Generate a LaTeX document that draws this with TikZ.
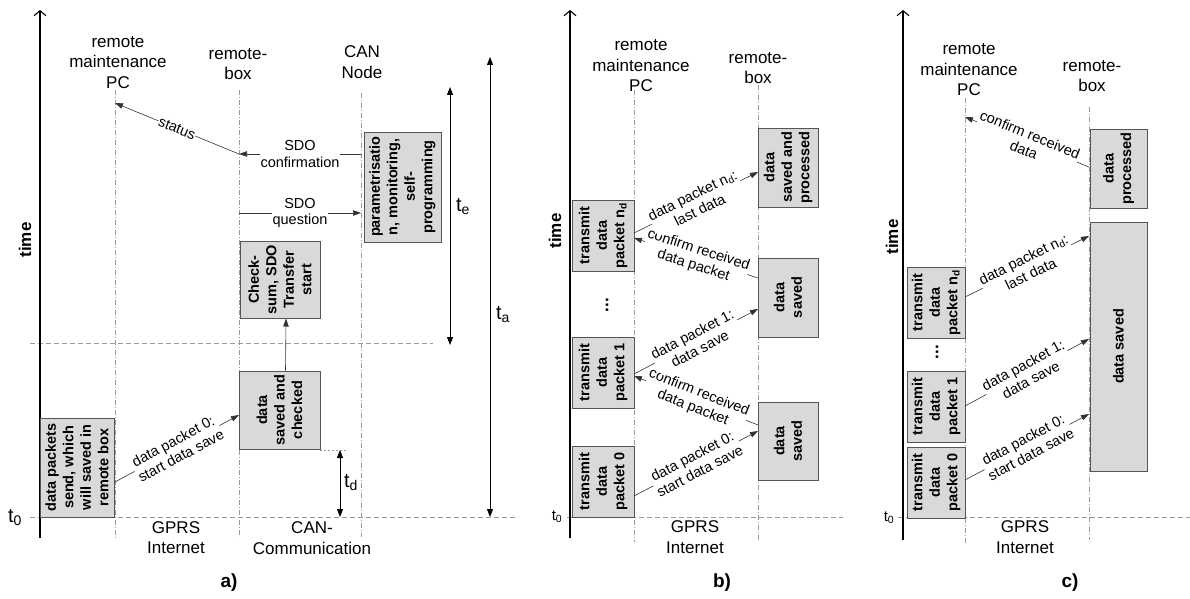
\documentclass[tikz,border=0pt]{standalone}
\usepackage{fontspec}
\setmainfont{Liberation Sans}
\usepackage{tikz}
\usetikzlibrary{arrows.meta,positioning}
\definecolor{boxfill}{HTML}{D9D9D9}
\definecolor{boxline}{HTML}{555555}
\definecolor{grid}{HTML}{9A9A9A}
\definecolor{msgline}{HTML}{333333}
\tikzset{
  lifeline/.style={draw=grid, line width=0.7pt, dash pattern=on 5pt off 2pt on 1pt off 2pt},
  gridline/.style={draw=grid, line width=0.8pt, dash pattern=on 5pt off 3pt},
  axisline/.style={draw=black, line width=1.1pt, -{Straight Barb[length=5pt,width=12pt]}},
  spanline/.style={draw=black, line width=0.9pt, {Triangle[length=8pt,width=6pt]}-{Triangle[length=8pt,width=6pt]}},
  msg/.style={draw=msgline, line width=0.6pt, -{Triangle[length=8pt,width=5.5pt]}},
  msglab/.style={font=\fontsize{14.5}{16.5}\selectfont, fill=white, inner sep=0.5pt, align=center, sloped, midway},
  box/.style={draw=boxline, fill=boxfill, line width=1pt, rotate=90, align=center, inner sep=1pt, font=\fontsize{14.5}{17.5}\selectfont\bfseries},
  lab/.style={font=\fontsize{17}{20.5}\selectfont, align=center},
  tlab/.style={font=\fontsize{20}{24}\selectfont},
  tsmall/.style={font=\fontsize{15}{18}\selectfont, fill=white, inner sep=1pt},
  axlab/.style={font=\fontsize{17}{20}\selectfont\bfseries, rotate=90},
  dotlab/.style={font=\fontsize{17}{20}\selectfont\bfseries, rotate=90},
  panel/.style={font=\fontsize{19}{22}\selectfont\bfseries},
}

\begin{document}
\begin{tikzpicture}[x=1pt,y=-1pt]
  \useasboundingbox (0,0) rectangle (1190,599);

  % a) remote maintenance with CAN node
  \coordinate (pcA) at (115,90);
  \coordinate (rbA) at (239,90);
  \coordinate (canA) at (361,93);
  \draw[gridline] (30,517) -- (518,517);
  \draw[gridline] (30,343) -- (433,343);
  \draw[lifeline] (pcA) -- (115,538);
  \draw[lifeline] (rbA) -- (239,537);
  \draw[lifeline] (canA) -- (361,537);
  \draw[axisline] (40,538) -- (40,10);
  \node[axlab] (timeA) at (25,240) {time};
  \node[tlab] (t0A) at (15,518) {t\textsubscript{0}};
  \node[lab] (pcLabA) at (118,62.5) {remote\\maintenance\\PC};
  \node[lab] (rbLabA) at (238,64) {remote-\\box};
  \node[lab] (canLabA) at (362,62) {CAN\\Node};
  \node[lab] (gprsA) at (176,537.5) {GPRS\\Internet};
  \node[lab] (canComA) at (312,538) {CAN-\\Communication};
  \node[panel] (panA) at (229,583) {a)};

  \node[box, minimum width=99pt, minimum height=74pt] (sendA) at (77,467.5) {data packets\\send, which\\will saved in\\remote box};
  \node[box, minimum width=78pt, minimum height=81pt] (savedA) at (279.5,410) {data\\saved and\\checked};
  \node[box, minimum width=77pt, minimum height=80pt] (checkA) at (280,279.5) {Check-\\sum, SDO\\Transfer\\start};
  \node[box, minimum width=110pt, minimum height=77pt] (paramA) at (402.5,187) {parametrisatio\\n, monitoring,\\self-\\programming};

  \draw[msg] (pcA |- 0,482) -- node[msglab] {data packet 0:\\start data save} (rbA |- 0,415);
  \draw[msg] ([xshift=6pt]savedA.east) -- ([xshift=6pt]checkA.west);
  \draw[msg] (rbA |- 0,213) -- node[msglab] {SDO\\question} (canA |- 0,213);
  \draw[msg] (canA |- 0,154) -- node[msglab] {SDO\\confirmation} (rbA |- 0,154);
  \draw[msg] (rbA |- 0,154) -- node[msglab] {status} (pcA |- 0,103);

  \coordinate (tdTop) at (340,450);
  \coordinate (tdBot) at (340,517);
  \draw[gridline, dash pattern=on 2pt off 2pt] (320,450) -- (348,450);
  \draw[spanline] (tdTop) -- (tdBot);
  \node[tlab] (tdA) at (351,483) {t\textsubscript{d}};
  \coordinate (teTop) at (450,87);
  \coordinate (teBot) at (450,345);
  \draw[spanline] (teTop) -- (teBot);
  \node[tlab] (teA) at (463,207) {t\textsubscript{e}};
  \coordinate (taTop) at (490,57);
  \coordinate (taBot) at (490,517);
  \draw[spanline] (taTop) -- (taBot);
  \node[tlab] (taA) at (503,315) {t\textsubscript{a}};

  % b) packet-wise transfer with confirmation
  \coordinate (pcB) at (634,90);
  \coordinate (rbB) at (758,85);
  \draw[gridline] (567,517) -- (843,517);
  \draw[lifeline] (pcB) -- (634,542);
  \draw[lifeline] (rbB) -- (758,540);
  \draw[axisline] (570,538) -- (570,10);
  \node[axlab] (timeB) at (555,231) {time};
  \node[tsmall] (t0B) at (557,517) {t\textsubscript{0}};
  \node[lab] (pcLabB) at (641,66) {remote\\maintenance\\PC};
  \node[lab] (rbLabB) at (758,68) {remote-\\box};
  \node[lab] (gprsB) at (695,537) {GPRS\\Internet};
  \node[panel] (panB) at (722,583) {b)};

  \node[box, minimum width=71pt, minimum height=62pt] (sendNB) at (603,235.5) {transmit\\data\\packet n\textsubscript{d}};
  \node[box, minimum width=71pt, minimum height=62pt] (send1B) at (603,372.5) {transmit\\data\\packet 1};
  \node[box, minimum width=71pt, minimum height=62pt] (send0B) at (603,481.5) {transmit\\data\\packet 0};
  \node[box, minimum width=79pt, minimum height=60pt] (procB) at (788,167.5) {data\\saved and\\processed};
  \node[box, minimum width=79pt, minimum height=60pt] (saved1B) at (788,297.5) {data\\saved};
  \node[box, minimum width=78pt, minimum height=60pt] (saved0B) at (788,441) {data\\saved};
  \node[dotlab] (dotsB) at (607,305) {...};

  \draw[msg] (pcB |- 0,496) -- node[msglab] {data packet 0:\\start data save} (rbB |- 0,431);
  \draw[msg] (rbB |- 0,425) -- node[msglab] {confirm received\\data packet} (pcB |- 0,376);
  \draw[msg] (pcB |- 0,374) -- node[msglab] {data packet 1:\\data save} (rbB |- 0,309);
  \draw[msg] (rbB |- 0,278) -- node[msglab] {confirm received\\data packet} (pcB |- 0,238);
  \draw[msg] (pcB |- 0,233) -- node[msglab] {data packet n\textsubscript{d}:\\last data} (rbB |- 0,172);

  % c) transfer without confirmation
  \coordinate (pcC) at (965,98);
  \coordinate (rbC) at (1089,107);
  \draw[gridline] (898,517) -- (1190,517);
  \draw[lifeline] (pcC) -- (965,543);
  \draw[lifeline] (rbC) -- (1089,540);
  \draw[axisline] (903,540) -- (903,10);
  \node[axlab] (timeC) at (892,237) {time};
  \node[tsmall] (t0C) at (889,518) {t\textsubscript{0}};
  \node[lab] (pcLabC) at (969,70) {remote\\maintenance\\PC};
  \node[lab] (rbLabC) at (1092,76) {remote-\\box};
  \node[lab] (gprsC) at (1025,537) {GPRS\\Internet};
  \node[panel] (panC) at (1070,583) {c)};

  \node[box, minimum width=71pt, minimum height=58pt] (sendNC) at (936,302.5) {transmit\\data\\packet n\textsubscript{d}};
  \node[box, minimum width=71pt, minimum height=58pt] (send1C) at (936,406.5) {transmit\\data\\packet 1};
  \node[box, minimum width=71pt, minimum height=58pt] (send0C) at (936,482.5) {transmit\\data\\packet 0};
  \node[box, minimum width=79pt, minimum height=57pt] (procC) at (1118.5,168.5) {data\\processed};
  \node[box, minimum width=249pt, minimum height=57pt] (savedC) at (1118.5,346.5) {data saved};
  \node[dotlab] (dotsC) at (937,352) {...};

  \draw[msg] (rbC |- 0,167) -- node[msglab] {confirm received\\data} (pcC |- 0,117);
  \draw[msg] (pcC |- 0,297) -- node[msglab] {data packet n\textsubscript{d}:\\last data} (rbC |- 0,236);
  \draw[msg] (pcC |- 0,406) -- node[msglab] {data packet 1:\\data save} (rbC |- 0,339);
  \draw[msg] (pcC |- 0,480) -- node[msglab] {data packet 0:\\start data save} (rbC |- 0,414);
\end{tikzpicture}
\end{document}
